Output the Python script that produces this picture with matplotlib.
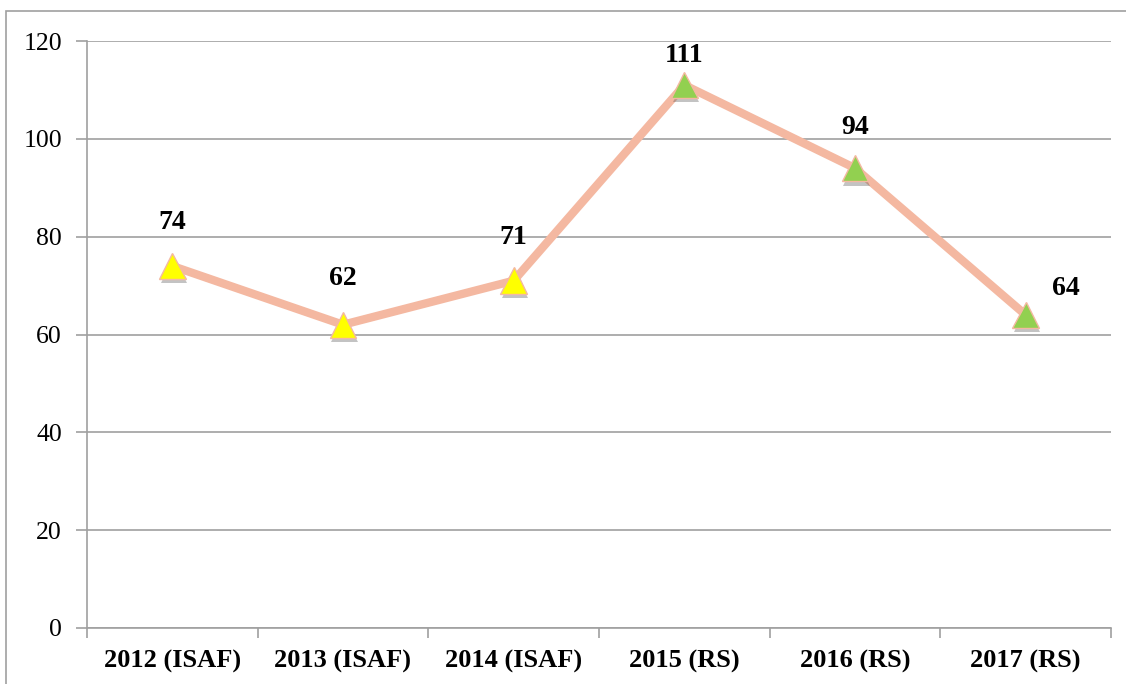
import matplotlib
matplotlib.use("Agg")
import matplotlib.pyplot as plt
import matplotlib.patheffects as pe
from matplotlib.patches import Rectangle

categories = ["2012 (ISAF)", "2013 (ISAF)", "2014 (ISAF)", "2015 (RS)", "2016 (RS)", "2017 (RS)"]
values = [74, 62, 71, 111, 94, 64]
marker_colors = ["#FFFF00", "#FFFF00", "#FFFF00", "#92D050", "#92D050", "#92D050"]
yticks = [0, 20, 40, 60, 80, 100, 120]

# label offsets in points (style)
label_offsets = [(0, 31), (0, 33), (0, 31), (0, 21), (0, 29), (29, 19)]

plt.rcParams['font.family'] = ['Liberation Serif', 'DejaVu Serif']

fig = plt.figure(figsize=(11.26, 6.84), dpi=100)
fig.patches.append(Rectangle((6/1126, -0.1), 1.2, 1 - 11/684 + 0.1, transform=fig.transFigure,
                             fill=False, edgecolor="#A0A0A0", linewidth=1.2, zorder=0))
ax = fig.add_axes([87/1126, 1 - 628/684, (1111 - 87)/1126, (628 - 41)/684])

x = list(range(len(categories)))
ax.plot(x, values, color="#F4B8A1", linewidth=6, solid_capstyle="butt", zorder=3)
shadow = [pe.SimplePatchShadow(offset=(1, -3), shadow_rgbFace="#555555", alpha=0.35), pe.Normal()]
for xi, v, c in zip(x, values, marker_colors):
    ax.plot([xi], [v], linestyle="none", marker="^", markersize=19, markerfacecolor=c,
            markeredgecolor="#F4B8A1", markeredgewidth=1, zorder=4, path_effects=shadow)
for xi, v, off in zip(x, values, label_offsets):
    ax.annotate(str(v), (xi, v), xytext=off, textcoords="offset points", ha="center", va="center",
                fontsize=20, fontweight="bold", color="black", zorder=5)

ax.set_xlim(-0.5, len(categories) - 0.5)
ax.set_ylim(0, 120)
ax.set_yticks(yticks)
ax.set_yticklabels([str(t) for t in yticks], fontsize=18.5)
ax.set_xticks(x)
ax.set_xticklabels(categories, fontsize=19, fontweight="bold")
ax.set_xticks([i - 0.5 for i in range(len(categories) + 1)], minor=True)
ax.tick_params(axis="x", which="major", length=0, pad=16)
ax.tick_params(axis="x", which="minor", length=7, color="#A0A0A0", width=1.2, direction="out")
ax.tick_params(axis="y", length=8, color="#A0A0A0", width=1.2, direction="out", pad=10)
ax.grid(axis="y", color="#A0A0A0", linewidth=1.2)
ax.set_axisbelow(True)
for s in ["top", "right"]:
    ax.spines[s].set_visible(False)
for s in ["left", "bottom"]:
    ax.spines[s].set_color("#A0A0A0")
    ax.spines[s].set_linewidth(1.2)

fig.savefig("out.png", dpi=100)
